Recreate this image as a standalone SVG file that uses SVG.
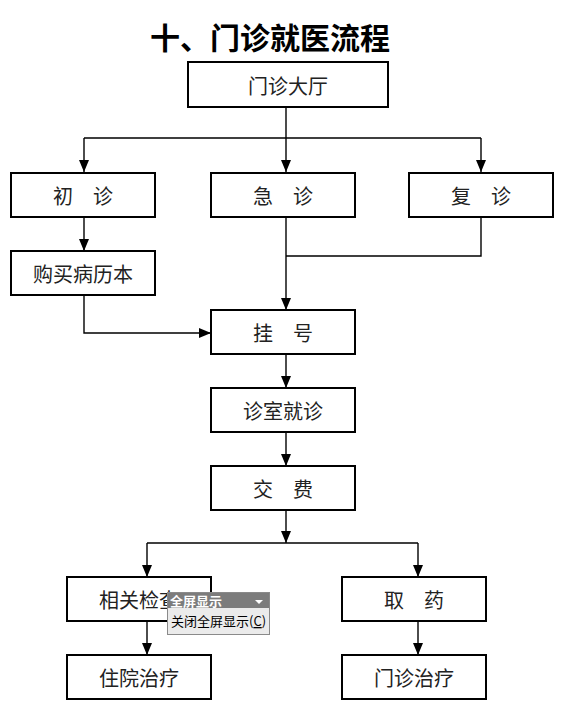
<svg xmlns="http://www.w3.org/2000/svg" width="564" height="719" viewBox="0 0 564 719">
<style>
.box{fill:#fff;stroke:#000;stroke-width:2}
.lbl{font-family:"Noto Sans CJK SC","Noto Sans",sans-serif;font-size:20px;fill:#222;text-anchor:middle;dominant-baseline:central}
.ln{fill:none;stroke:#000;stroke-width:1.4}
.title{font-family:"Noto Sans CJK SC","Noto Sans",sans-serif;font-size:30px;font-weight:bold;fill:#000;text-anchor:middle}
.pop{font-family:"Noto Sans CJK SC","Noto Sans",sans-serif;font-size:13px}
</style>
<defs>
<marker id="ah" viewBox="0 0 12 10" refX="12" refY="5" markerWidth="12" markerHeight="10" markerUnits="userSpaceOnUse" orient="auto">
<path d="M0,0 L12,5 L0,10 z" fill="#000"/>
</marker>
</defs>
<rect width="564" height="719" fill="#fff"/>
<text class="title" x="270" y="49">十、门诊就医流程</text>
<g id="connectors">
<path class="ln" d="M286,107 V138 M84,138 H481"/>
<path class="ln" d="M84,138 V172" marker-end="url(#ah)"/>
<path class="ln" d="M286,138 V172" marker-end="url(#ah)"/>
<path class="ln" d="M481,138 V172" marker-end="url(#ah)"/>
<path class="ln" d="M84,217 V251" marker-end="url(#ah)"/>
<path class="ln" d="M286,217 V310" marker-end="url(#ah)"/>
<path class="ln" d="M481,217 V256 H286"/>
<path class="ln" d="M84,295 V333 H211" marker-end="url(#ah)"/>
<path class="ln" d="M286,354 V388" marker-end="url(#ah)"/>
<path class="ln" d="M286,432 V466" marker-end="url(#ah)"/>
<path class="ln" d="M286,510 V543" marker-end="url(#ah)"/>
<path class="ln" d="M147,543 H418"/>
<path class="ln" d="M147,543 V577" marker-end="url(#ah)"/>
<path class="ln" d="M418,543 V577" marker-end="url(#ah)"/>
<path class="ln" d="M147,621 V655" marker-end="url(#ah)"/>
<path class="ln" d="M418,621 V655" marker-end="url(#ah)"/>
</g>
<g id="hall"><rect class="box" x="188" y="62" width="200" height="45"/><text class="lbl" x="288" y="85">门诊大厅</text></g>
<g id="first"><rect class="box" x="11" y="173" width="144" height="44"/><text class="lbl" x="83" y="195">初　诊</text></g>
<g id="emergency"><rect class="box" x="211" y="173" width="144" height="44"/><text class="lbl" x="283" y="195">急　诊</text></g>
<g id="return"><rect class="box" x="409" y="173" width="144" height="44"/><text class="lbl" x="481" y="195">复　诊</text></g>
<g id="record"><rect class="box" x="11" y="251" width="144" height="44"/><text class="lbl" x="83" y="273">购买病历本</text></g>
<g id="register"><rect class="box" x="211" y="310" width="144" height="44"/><text class="lbl" x="283" y="332">挂　号</text></g>
<g id="consult"><rect class="box" x="211" y="388" width="144" height="44"/><text class="lbl" x="283" y="410">诊室就诊</text></g>
<g id="pay"><rect class="box" x="211" y="466" width="144" height="44"/><text class="lbl" x="283" y="488">交　费</text></g>
<g id="exam"><rect class="box" x="67" y="577" width="144" height="44"/><text class="lbl" x="139" y="599">相关检查</text></g>
<g id="drug"><rect class="box" x="342" y="577" width="144" height="44"/><text class="lbl" x="414" y="599">取　药</text></g>
<g id="inpatient"><rect class="box" x="67" y="655" width="144" height="44"/><text class="lbl" x="139" y="677">住院治疗</text></g>
<g id="outpatient"><rect class="box" x="342" y="655" width="144" height="44"/><text class="lbl" x="414" y="677">门诊治疗</text></g>
<g id="popup">
<rect x="167.5" y="592.5" width="102" height="42" fill="#ebebeb" stroke="#8a8a8a" stroke-width="1"/>
<rect x="168" y="593" width="101" height="15" fill="#7c7c7c"/>
<text class="pop" x="170" y="605.5" fill="#fff" font-weight="bold">全屏显示</text>
<path d="M255,600 L263,600 L259,604 z" fill="#fff"/>
<text class="pop" x="171" y="626" fill="#000">关闭全屏显示(<tspan text-decoration="underline">C</tspan>)</text>
</g>
</svg>
